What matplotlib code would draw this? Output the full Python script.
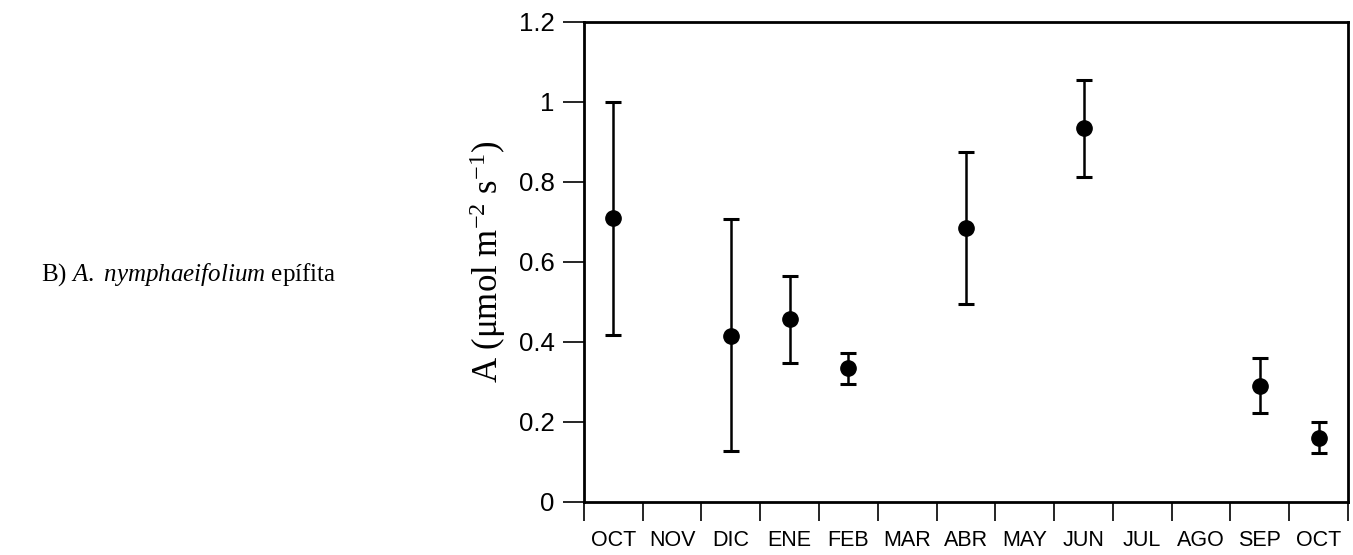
import matplotlib
matplotlib.use('Agg')
import matplotlib.pyplot as plt
import numpy as np

plt.rcParams['mathtext.fontset'] = 'custom'
plt.rcParams['mathtext.rm'] = 'Liberation Serif'
plt.rcParams['mathtext.it'] = 'Liberation Serif:italic'

# month labels along x (one per interval)
months = ['OCT', 'NOV', 'DIC', 'ENE', 'FEB', 'MAR', 'ABR', 'MAY', 'JUN', 'JUL', 'AGO', 'SEP', 'OCT']

# measured months (index into months) and values
sampled = [0, 2, 3, 4, 6, 8, 11, 12]
a_mean = [0.71, 0.415, 0.458, 0.335, 0.685, 0.935, 0.29, 0.16]
a_upper = [1.0, 0.708, 0.565, 0.373, 0.875, 1.055, 0.36, 0.2]
a_lower = [0.418, 0.128, 0.347, 0.295, 0.495, 0.813, 0.222, 0.122]

x = np.array(sampled) + 0.5
mean = np.array(a_mean)
yerr = [mean - np.array(a_lower), np.array(a_upper) - mean]

fig = plt.figure(figsize=(13.53, 5.55), dpi=100)
ax = fig.add_axes([0.4316, 0.0955, 0.5647, 0.8649])

ax.errorbar(x, mean, yerr=yerr, fmt='o', color='black', ms=11,
            elinewidth=1.8, capsize=6, capthick=2.2)

ax.set_xlim(0, len(months))
ax.set_ylim(0, 1.2)

ax.set_xticks(np.arange(len(months) + 1))
ax.set_xticklabels([])
ax.set_xticks(np.arange(len(months)) + 0.5, minor=True)
ax.set_xticklabels(months, minor=True, fontsize=15.5, family='Liberation Sans')
ax.tick_params(axis='x', which='major', direction='out', length=14, width=1.2)
ax.tick_params(axis='x', which='minor', length=0, pad=20)

ax.set_yticks([0, 0.2, 0.4, 0.6, 0.8, 1.0, 1.2])
ax.set_yticklabels(['0', '0.2', '0.4', '0.6', '0.8', '1', '1.2'],
                   fontsize=18.5, family='Liberation Sans')
ax.tick_params(axis='y', direction='out', length=15, width=1.2, pad=6)

for s in ax.spines.values():
    s.set_linewidth(2)

ax.set_ylabel(r'A ($\mathregular{\mu}$mol m$^{-2}$ s$^{-1}$)', fontsize=25,
              family='Liberation Serif', labelpad=8)

fig.text(0.03, 0.505, r'B) $\mathit{A.}$ $\mathit{nymphaeifolium}$ epífita', fontsize=18,
         family='Liberation Serif', va='center')

fig.savefig('out.png', dpi=100)
